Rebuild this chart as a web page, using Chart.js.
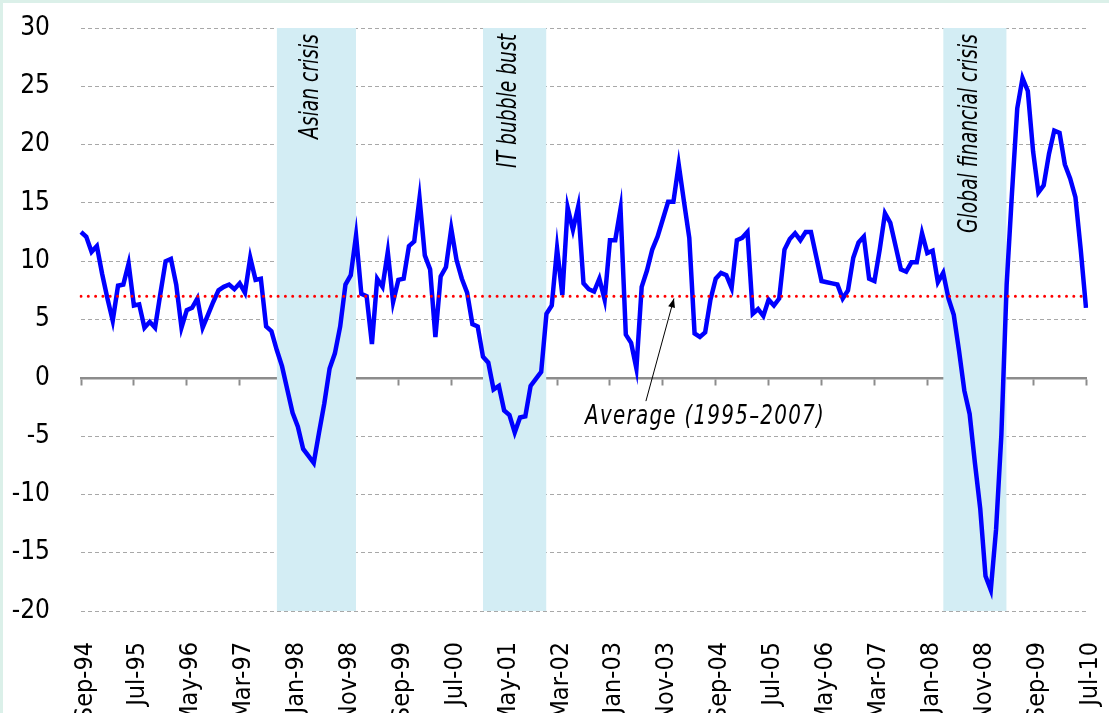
<!DOCTYPE html>
<html>
<head>
<meta charset="utf-8">
<script src="https://cdn.jsdelivr.net/npm/chart.js@4"></script>
<style>
  html, body { margin: 0; padding: 0; background: #fff; }
  #moldura { width: 1106px; height: 710px; border-top: 3px solid #dbf0e9; border-left: 3px solid #dbf0e9; background: #fff; }
</style>
</head>
<body>
<div id="moldura"><canvas id="chartGrowth" width="1106" height="710"></canvas></div>
<script>
// serie mensal, Sep-94 .. Jul-10
const primeiroAno = 1994;
const primeiroMes = 8; // Sep
const nomesMeses = ['Jan', 'Feb', 'Mar', 'Apr', 'May', 'Jun', 'Jul', 'Aug', 'Sep', 'Oct', 'Nov', 'Dec'];

const crescimento = [
    12.5, 12.1, 10.8, 11.3, 8.9, 6.8, 4.9, 7.9, 8.0, 9.8,
    6.2, 6.3, 4.3, 4.8, 4.3, 7.2, 10.0, 10.2, 8.0, 4.3,
    5.8, 6.0, 6.8, 4.3, 5.4, 6.5, 7.5, 7.8, 8.0, 7.6,
    8.1, 7.3, 10.3, 8.4, 8.5, 4.4, 4.0, 2.4, 1.0, -1.0,
    -3.0, -4.2, -6.1, -6.7, -7.3, -4.7, -2.2, 0.8, 2.1, 4.4,
    8.0, 8.8, 12.2, 7.2, 7.0, 2.9, 8.5, 7.8, 10.8, 6.5,
    8.4, 8.5, 11.3, 11.7, 15.4, 10.5, 9.3, 3.5, 8.7, 9.5,
    12.8, 10.1, 8.5, 7.3, 4.6, 4.4, 1.8, 1.3, -1.0, -0.7,
    -2.8, -3.2, -4.7, -3.4, -3.3, -0.7, -0.1, 0.5, 5.5, 6.2,
    11.1, 7.1, 14.6, 12.7, 14.7, 8.1, 7.6, 7.4, 8.5, 6.7,
    11.8, 11.8, 14.5, 3.7, 3.0, 0.8, 7.8, 9.2, 11.0, 12.1,
    13.6, 15.1, 15.1, 18.3, 15.1, 12.0, 3.8, 3.5, 3.9, 6.7,
    8.5, 9.0, 8.8, 7.7, 11.8, 12.0, 12.5, 5.5, 5.9, 5.3,
    6.7, 6.2, 6.8, 11.0, 11.9, 12.4, 11.8, 12.5, 12.5, 10.4,
    8.3, 8.2, 8.1, 8.0, 6.8, 7.5, 10.3, 11.6, 12.1, 8.5,
    8.3, 11.0, 14.1, 13.3, 11.3, 9.3, 9.1, 9.9, 9.9, 12.4,
    10.7, 10.9, 8.2, 9.0, 6.8, 5.4, 2.3, -1.1, -3.1, -7.3,
    -11.2, -17.0, -18.2, -13.0, -4.9, 8.0, 15.8, 23.1, 25.7, 24.6,
    19.4, 15.9, 16.5, 19.2, 21.2, 21.0, 18.3, 17.1, 15.5, 11.0,
    6.0
];

const media = 7.0;
const textoMedia = 'Average (1995\u20132007)';

const rotulosEixo = ['Sep-94', 'Jul-95', 'May-96', 'Mar-97', 'Jan-98', 'Nov-98', 'Sep-99', 'Jul-00',
    'May-01', 'Mar-02', 'Jan-03', 'Nov-03', 'Sep-04', 'Jul-05', 'May-06', 'Mar-07',
    'Jan-08', 'Nov-08', 'Sep-09', 'Jul-10'];

const crises = [
    { nome: 'Asian crisis', de: 'Oct-97', ate: 'Jan-99' },
    { nome: 'IT bubble bust', de: 'Jan-01', ate: 'Jan-02' },
    { nome: 'Global financial crisis', de: 'Apr-08', ate: 'Apr-09' }
];

const yMin = -20;
const yMax = 30;
const yPasso = 5;

const fonteEstreita = "'Liberation Sans Narrow', 'DejaVu Sans Condensed', 'Arial Narrow', sans-serif";

const labels = crescimento.map((_, i) => {
    const m = primeiroMes + i;
    const ano = primeiroAno + Math.floor(m / 12);
    return nomesMeses[m % 12] + '-' + String(ano % 100).padStart(2, '0');
});

const faixas = crises.map(c => {
    const a = labels.indexOf(c.de);
    const b = labels.indexOf(c.ate);
    return {
        type: 'line',
        data: labels.map((_, i) => (i >= a && i <= b) ? yMax : null),
        borderWidth: 0,
        borderColor: 'rgba(0,0,0,0)',
        backgroundColor: '#d3edf4',
        pointRadius: 0,
        fill: { value: yMin },
        spanGaps: false,
        order: 3
    };
});

// texto em italico, comprimido na horizontal (nao ha fonte condensada no sandbox)
function textoEstreito(ctx, texto, x, y, escala) {
    ctx.save();
    ctx.translate(x, y);
    ctx.scale(escala, 1);
    ctx.fillText(texto, 0, 0);
    ctx.restore();
}

const rotulosCrise = {
    id: 'rotulosCrise',
    afterDatasetsDraw(chart) {
        const ctx = chart.ctx;
        const x = chart.scales.x;
        const area = chart.chartArea;
        ctx.save();
        ctx.font = 'italic 26px ' + fonteEstreita;
        ctx.fillStyle = '#000';
        ctx.textAlign = 'right';
        ctx.textBaseline = 'middle';
        crises.forEach(c => {
            const cx = (x.getPixelForValue(labels.indexOf(c.de)) + x.getPixelForValue(labels.indexOf(c.ate))) / 2 - 5;
            ctx.save();
            ctx.translate(cx, area.top + 6);
            ctx.rotate(-Math.PI / 2);
            textoEstreito(ctx, c.nome, 0, 0, 0.8);
            ctx.restore();
        });

        // nota da media com seta
        const y = chart.scales.y;
        const hx = x.getPixelForValue(112.1), hy = y.getPixelForValue(6.8);
        const tx = x.getPixelForValue(106.8), ty = y.getPixelForValue(-2.0);
        ctx.strokeStyle = '#000';
        ctx.lineWidth = 1;
        ctx.beginPath();
        ctx.moveTo(tx, ty);
        ctx.lineTo(hx, hy);
        ctx.stroke();
        const ang = Math.atan2(hy - ty, hx - tx);
        ctx.beginPath();
        ctx.moveTo(hx, hy);
        ctx.lineTo(hx - 9 * Math.cos(ang) + 3.5 * Math.sin(ang), hy - 9 * Math.sin(ang) - 3.5 * Math.cos(ang));
        ctx.lineTo(hx - 9 * Math.cos(ang) - 3.5 * Math.sin(ang), hy - 9 * Math.sin(ang) + 3.5 * Math.cos(ang));
        ctx.closePath();
        ctx.fill();

        ctx.textAlign = 'left';
        ctx.textBaseline = 'alphabetic';
        ctx.letterSpacing = '1.5px';
        textoEstreito(ctx, textoMedia, x.getPixelForValue(95.3), y.getPixelForValue(-3.95), 0.85);
        ctx.restore();
    }
};

const ctx = document.getElementById('chartGrowth').getContext('2d');

new Chart(ctx, {
    type: 'line',
    data: {
        labels: labels,
        datasets: [
            {
                data: labels.map(() => media),
                borderColor: '#ff0000',
                borderWidth: 3,
                borderDash: [0, 7.3],
                borderCapStyle: 'round',
                pointRadius: 0,
                fill: false,
                order: 0
            },
            {
                data: crescimento,
                borderColor: '#0000ff',
                borderWidth: 4.5,
                pointRadius: 0,
                tension: 0,
                fill: false,
                order: 1
            },
            ...faixas
        ]
    },
    options: {
        responsive: false,
        animation: false,
        events: [],
        layout: { padding: { top: 25, right: 23, left: 0, bottom: 0 } },
        plugins: {
            legend: { display: false },
            tooltip: { enabled: false }
        },
        scales: {
            x: {
                type: 'category',
                position: 'bottom',
                offset: false,
                grid: { display: false },
                border: { display: false },
                ticks: {
                    autoSkip: false,
                    minRotation: 90,
                    maxRotation: 90,
                    padding: 23,
                    labelOffset: 4,
                    color: '#000',
                    font: { family: fonteEstreita, size: 25 },
                    callback: function(v) {
                        const l = this.getLabelForValue(v);
                        return rotulosEixo.includes(l) ? l : null;
                    }
                },
                afterFit: s => {
                    s.height = 102;
                    s.paddingLeft = 0;
                    s.paddingRight = 0;
                }
            },
            x2: {
                type: 'category',
                axis: 'x',
                position: { y: 0 },
                offset: false,
                z: 1,
                ticks: { display: false },
                grid: {
                    drawOnChartArea: false,
                    drawTicks: true,
                    tickLength: 6,
                    tickWidth: 2,
                    tickColor: c => rotulosEixo.includes(labels[c.index]) ? '#8c8c8c' : 'rgba(0,0,0,0)'
                },
                border: { display: true, color: '#8c8c8c', width: 2.5 }
            },
            y: {
                min: yMin,
                max: yMax,
                ticks: {
                    stepSize: yPasso,
                    padding: 31,
                    color: '#000',
                    font: { family: fonteEstreita, size: 26 }
                },
                grid: { color: '#a8a8a8', lineWidth: 1, drawTicks: false },
                border: { display: false, dash: [4, 3] },
                afterFit: s => {
                    s.width = 78;
                    s.paddingTop = 0;
                    s.paddingBottom = 0;
                }
            }
        }
    },
    plugins: [rotulosCrise]
});
</script>
</body>
</html>
